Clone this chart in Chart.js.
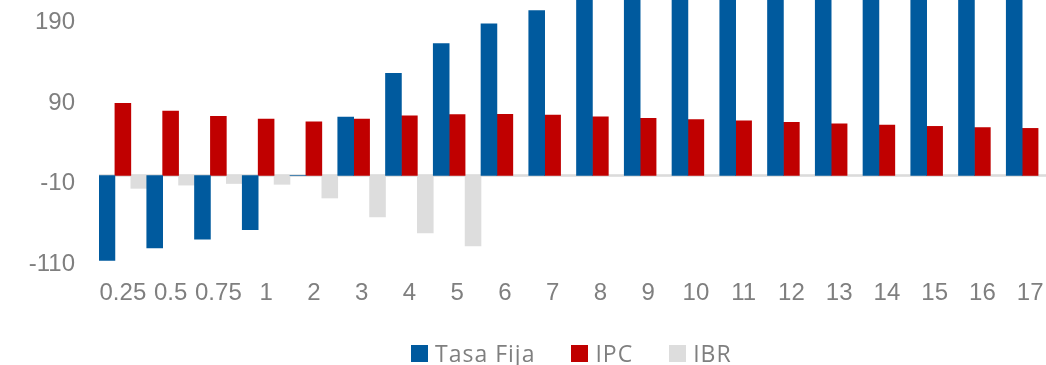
<!DOCTYPE html>
<html>
<head>
<meta charset="utf-8">
<script src="https://cdn.jsdelivr.net/npm/chart.js@4/dist/chart.umd.min.js"></script>
<style>
  html, body { margin: 0; padding: 0; background: #fff; overflow: hidden; }
  #wrap { position: relative; width: 1046px; height: 365px; overflow: hidden; }
  #legend {
    position: absolute; left: 411px; top: 338px;
    display: flex; align-items: center; line-height: 31px;
    font-family: "Open Sans", sans-serif; font-size: 23px; letter-spacing: 1px; color: #7f7f7f;
  }
  #legend .item { display: flex; align-items: center; margin-right: 36px; }
  #legend .box { width: 17px; height: 17px; margin-right: 7px; }
</style>
</head>
<body>
<div id="wrap">
  <canvas id="chart" width="1054" height="365"></canvas>
  <div id="legend"></div>
</div>
<script>
// plazos (años)
const categories = ['0.25', '0.5', '0.75', '1', '2', '3', '4', '5', '6', '7', '8', '9', '10', '11', '12', '13', '14', '15', '16', '17'];

const tasaFija = [-105.5, -90, -79, -67.5, 0, 72.5, 127, 164, 188.5, 205, 218, 226, 233, 239, 244, 248, 252, 255, 258, 260];
const ipc = [89.5, 80, 73.5, 70, 66.5, 70, 74, 75.5, 76, 75, 73, 71, 69.5, 68, 66, 64, 62.5, 61, 59.5, 58.5];
const ibr = [-16, -12, -10, -11, -28, -51.5, -71.5, -87.5, 0, 0, 0, 0, 0, 0, 0, 0, 0, 0, 0, 0];

const yTicks = [-110, -10, 90, 190];

const colors = { fija: '#005a9e', ipc: '#c00000', ibr: '#dddddd' };

const ctx = document.getElementById('chart').getContext('2d');

// linea del cero
const zeroLine = {
  id: 'zeroLine',
  beforeDatasetsDraw(chart) {
    const { ctx, chartArea, scales } = chart;
    const y = scales.y.getPixelForValue(0);
    ctx.save();
    ctx.strokeStyle = '#d9d9d9';
    ctx.lineWidth = 2.5;
    ctx.beginPath();
    ctx.moveTo(chartArea.left, y);
    ctx.lineTo(chartArea.right, y);
    ctx.stroke();
    ctx.restore();
  }
};

const chart = new Chart(ctx, {
  type: 'bar',
  data: {
    labels: categories,
    datasets: [
      { label: 'Tasa Fija', data: tasaFija, backgroundColor: colors.fija },
      { label: 'IPC', data: ipc, backgroundColor: colors.ipc },
      { label: 'IBR', data: ibr, backgroundColor: colors.ibr }
    ]
  },
  options: {
    responsive: false,
    animation: false,
    layout: { padding: { top: 0, left: 0, right: 0, bottom: 61 } },
    datasets: { bar: { barPercentage: 1, categoryPercentage: 1 } },
    plugins: { legend: { display: false }, tooltip: { enabled: false } },
    scales: {
      x: {
        grid: { display: false, drawTicks: false },
        border: { display: false },
        ticks: {
          color: '#7f7f7f', padding: 15, maxRotation: 0, autoSkip: false,
          font: { family: 'Liberation Sans', size: 24 }
        },
        afterFit(scale) {
          scale.height = 40;
          scale.paddingLeft = 0;
          scale.paddingRight = 0;
        }
      },
      y: {
        min: -110,
        max: 218,
        grid: { display: false, drawTicks: false },
        border: { display: false },
        ticks: {
          color: '#7f7f7f', padding: 24,
          font: { family: 'Liberation Sans', size: 24 }
        },
        afterBuildTicks(scale) {
          scale.ticks = yTicks.map(v => ({ value: v }));
        },
        afterFit(scale) {
          scale.width = 99;
          scale.paddingTop = 0;
          scale.paddingBottom = 0;
        }
      }
    }
  },
  plugins: [zeroLine]
});

// leyenda
const legend = document.getElementById('legend');
chart.data.datasets.forEach(ds => {
  const item = document.createElement('div');
  item.className = 'item';
  const box = document.createElement('span');
  box.className = 'box';
  box.style.background = ds.backgroundColor;
  const txt = document.createElement('span');
  txt.textContent = ds.label;
  item.appendChild(box);
  item.appendChild(txt);
  legend.appendChild(item);
});
</script>
</body>
</html>
